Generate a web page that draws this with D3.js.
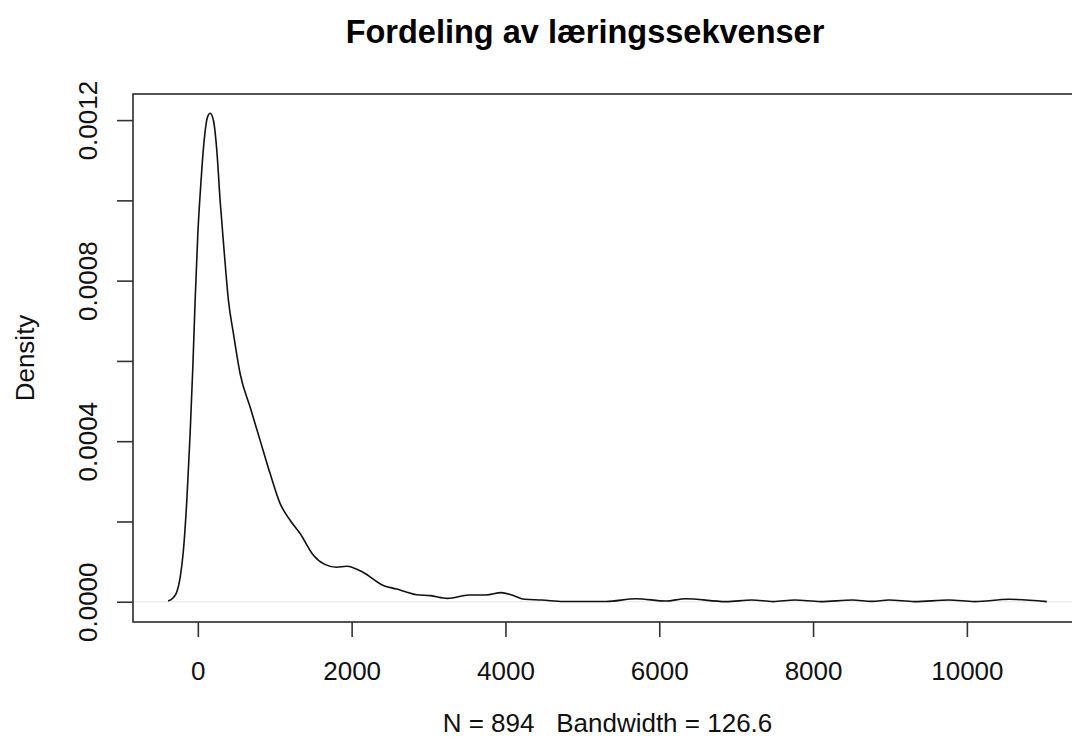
<!DOCTYPE html>
<html>
<head>
<meta charset="utf-8">
<script src="https://cdn.jsdelivr.net/npm/d3@7"></script>
<style>
  html, body { margin: 0; padding: 0; background: #fff; }
  svg { display: block; font-family: "Liberation Sans", Arial, Helvetica, sans-serif; }
</style>
</head>
<body>
<svg id="chart" width="1072" height="745"></svg>
<script>
// ---- data ----
const densityX = [-386, -320, -270, -230, -187, -143, -100, -65, -35, 0, 39, 82, 125, 160, 203, 247, 290, 342, 398, 463, 550, 680, 810, 939, 1069, 1200, 1330, 1503, 1650, 1800, 1937, 2152, 2412, 2586, 2700, 2846, 3025, 3248, 3526, 3749, 3944, 4084, 4251, 4474, 4752, 5309, 5699, 6089, 6340, 6869, 7203, 7482, 7760, 8095, 8513, 8763, 8986, 9320, 9766, 10100, 10546, 11040];
const densityY = [0.000002, 0.000010, 0.000026, 0.000060, 0.000129, 0.000253, 0.000419, 0.000585, 0.000751, 0.000917, 0.001041, 0.001149, 0.001207, 0.001217, 0.001199, 0.001124, 0.000999, 0.000874, 0.000751, 0.000668, 0.000568, 0.000485, 0.000402, 0.000320, 0.000245, 0.000203, 0.000170, 0.000116, 0.000093, 0.000086, 0.0000884, 0.0000729, 0.0000403, 0.0000316, 0.000025, 0.0000172, 0.0000151, 0.0000084, 0.0000168, 0.0000168, 0.0000227, 0.0000168, 0.000006, 0.0000042, 0.0000005, 0.0000005, 0.0000076, 0.0000017, 0.0000076, 0.0000002, 0.0000042, 0.0000003, 0.0000042, 0.0000003, 0.0000042, 0.0000008, 0.0000042, 0.0000003, 0.0000042, 0.0000003, 0.000006, 0.0000003];
const xTicks = [0, 2000, 4000, 6000, 8000, 10000];
const yTicks = [0, 0.0002, 0.0004, 0.0006, 0.0008, 0.0010, 0.0012];
const yTickLabels = ["0.0000", "", "0.0004", "", "0.0008", "", "0.0012"];
const titleText = "Fordeling av læringssekvenser";
const xLabelText = "N = 894   Bandwidth = 126.6";
const yLabelText = "Density";

// ---- layout ----
const pLeft = 133, pRight = 1082, pTop = 94, pBottom = 622;
const svg = d3.select("#chart");

const x = d3.scaleLinear().domain([-843, 11497]).range([pLeft, pRight]);
const y = d3.scaleLinear().domain([-0.0000505, 0.001265]).range([pBottom, pTop]);

// zero line
svg.append("line")
  .attr("x1", pLeft).attr("x2", pRight)
  .attr("y1", y(0)).attr("y2", y(0))
  .attr("stroke", "#e8e8e8").attr("stroke-width", 1);

// density curve
const pts = densityX.map((d, i) => [d, densityY[i]]);
svg.append("path")
  .datum(pts)
  .attr("fill", "none")
  .attr("stroke", "#111")
  .attr("stroke-width", 1.6)
  .attr("d", d3.line().x(d => x(d[0])).y(d => y(d[1])).curve(d3.curveMonotoneX));

// box
svg.append("rect")
  .attr("x", pLeft).attr("y", pTop)
  .attr("width", pRight - pLeft).attr("height", pBottom - pTop)
  .attr("fill", "none").attr("stroke", "#2a2a2a").attr("stroke-width", 1.6);

// x axis
const xAxis = d3.axisBottom(x).tickValues(xTicks).tickSize(15).tickPadding(10).tickFormat(d3.format("d"));
const gx = svg.append("g").attr("transform", `translate(0,${pBottom})`).call(xAxis);
gx.select(".domain").remove();
gx.selectAll(".tick line").attr("stroke", "#333").attr("stroke-width", 1.6);
gx.selectAll(".tick text").attr("font-size", 26).attr("fill", "#111")
  .attr("font-family", "Liberation Sans, Arial, sans-serif")
  .attr("dy", null).attr("y", 58);

// y axis
const yAxis = d3.axisLeft(y).tickValues(yTicks).tickSize(16).tickFormat((d, i) => yTickLabels[i]);
const gy = svg.append("g").attr("transform", `translate(${pLeft},0)`).call(yAxis);
gy.select(".domain").remove();
gy.selectAll(".tick line").attr("stroke", "#333").attr("stroke-width", 1.6);
gy.selectAll(".tick text")
  .attr("font-size", 26).attr("fill", "#111")
  .attr("font-family", "Liberation Sans, Arial, sans-serif")
  .attr("x", null).attr("dy", null)
  .attr("text-anchor", "middle")
  .attr("transform", "translate(-36,0) rotate(-90)");

// title
svg.append("text")
  .attr("x", 585).attr("y", 43)
  .attr("text-anchor", "middle")
  .attr("font-size", 32.5).attr("font-weight", "bold").attr("fill", "#000")
  .text(titleText);

// x label
svg.append("text")
  .attr("x", (pLeft + pRight) / 2).attr("y", 732)
  .attr("text-anchor", "middle")
  .attr("font-size", 26).attr("fill", "#111")
  .attr("xml:space", "preserve")
  .style("white-space", "pre")
  .text(xLabelText);

// y label
svg.append("text")
  .attr("transform", `translate(34,${(pTop + pBottom) / 2}) rotate(-90)`)
  .attr("text-anchor", "middle")
  .attr("font-size", 26).attr("fill", "#111")
  .text(yLabelText);
</script>
</body>
</html>
